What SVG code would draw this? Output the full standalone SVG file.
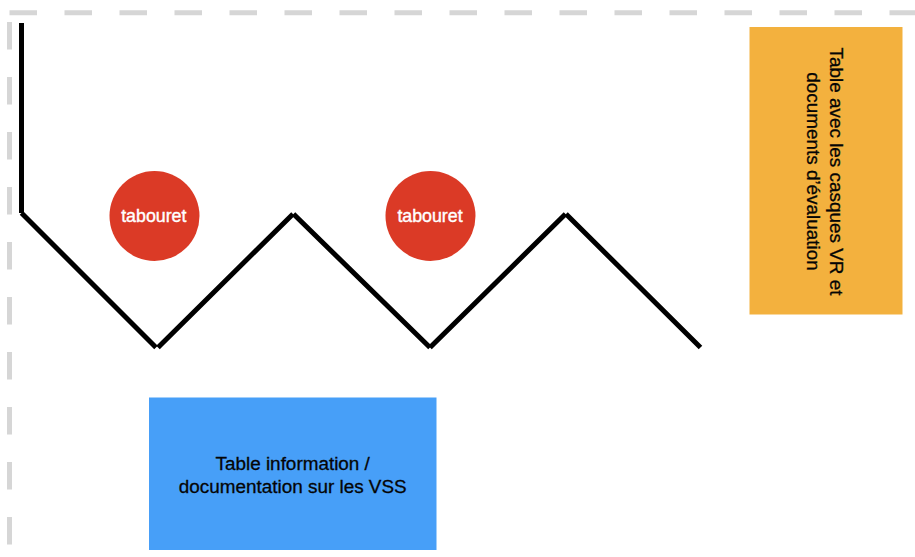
<svg xmlns="http://www.w3.org/2000/svg" width="915" height="557" viewBox="0 0 915 557">
<style>
text{font-family:"Liberation Sans",Arial,sans-serif;font-size:18.9px;text-anchor:middle;fill:#050505;stroke:#050505;stroke-width:.3}
.dash{fill:none;stroke:#d6d6d6;stroke-width:5;stroke-dasharray:27.5 27.5}
.wall{fill:none;stroke:#000;stroke-width:5}
.stool{fill:#db3a26}
text.stool-label{fill:#fff;stroke:#fff;stroke-width:.4;font-size:17.8px}
</style>
<rect width="915" height="557" fill="#fff"/>
<g id="connectors">
<path class="dash" d="M9.5 12.700H915"/>
<path class="dash" d="M9.500 22V557"/>
<path class="wall" d="M21.500 23V213M21.500 213L156 347.500M158 347.500L293 214M293.500 214L430 347.500M430 347.500L565.500 214M566 214L700.500 347.500"/>
</g>
<g id="table-casques">
<rect x="749.500" y="27" width="153" height="287.500" fill="#f3b13e"/>
<g transform="translate(826 171.500) rotate(90)"><text x="0" y="-3.500">Table avec les casques VR et</text><text x="0" y="19.300">documents d’évaluation</text></g>
</g>
<g id="tabouret-1">
<circle class="stool" cx="154.500" cy="216" r="45"/>
<text class="stool-label" x="153.800" y="221.500">tabouret</text>
</g>
<g id="tabouret-2">
<circle class="stool" cx="430.500" cy="216" r="45"/>
<text class="stool-label" x="430" y="221.500">tabouret</text>
</g>
<g id="table-information">
<rect x="149" y="397.500" width="287.500" height="152.500" fill="#479ff8"/>
<text x="292.700" y="470">Table information /</text>
<text x="292.700" y="493">documentation sur les VSS</text>
</g>
</svg>
